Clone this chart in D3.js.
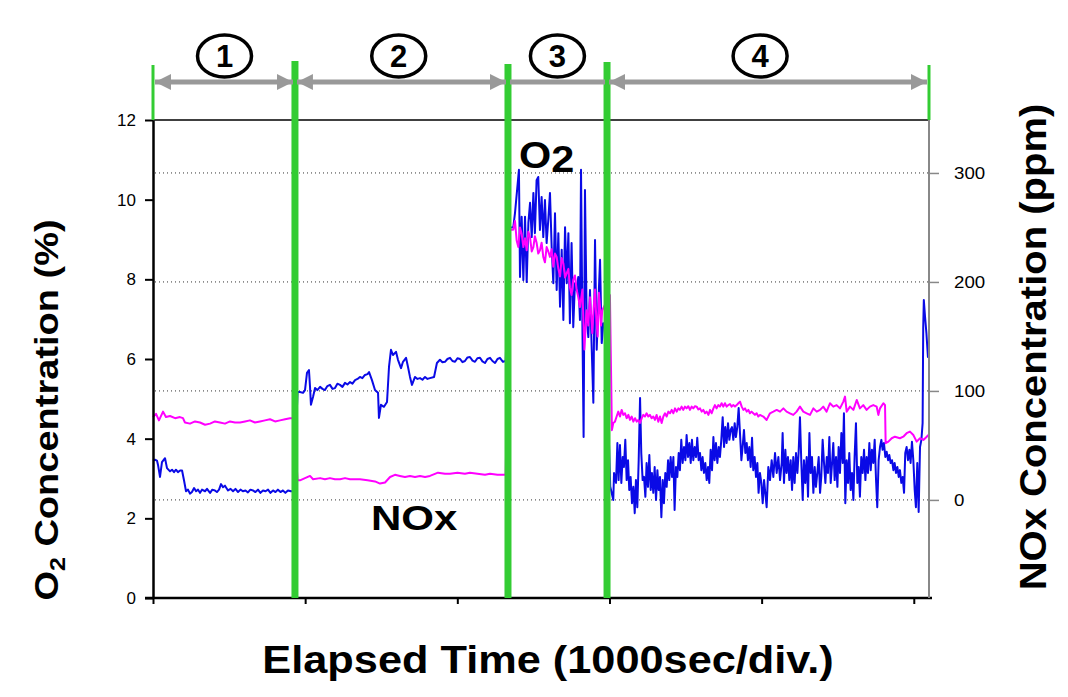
<!DOCTYPE html>
<html><head><meta charset="utf-8">
<script src="https://cdn.jsdelivr.net/npm/d3@7"></script>
<style>body{margin:0;background:#fff} svg{display:block} text{font-family:"Liberation Sans",Arial,sans-serif}</style>
</head><body><svg id="c" width="1068" height="697"></svg>
<script>
const timeTicks=[0,1000,2000,3000,4000,5000];
const o2Ticks=[0,2,4,6,8,10,12];
const noxTicks=[0,100,200,300];
const phaseBounds=[0,933,2333,2984,5100];
const phaseNames=["1","2","3","4"];
const phaseLabelTimes=[470,1615,2658,3990];
const o2Data=[
[0,3.45],[13,3.47],[26,3.45],[33,3.34],[46,3.04],[59,3.41],[79,3.51],[92,3.26],[112,3.18],[125,3.22],[138,3.16],[151,3.22],[164,3.16],[178,3.2],[191,3.2],[204,2.95],[217,2.68],[230,2.72],[243,2.62],[256,2.66],[270,2.76],[283,2.68],[296,2.72],[309,2.64],[322,2.72],[342,2.68],[355,2.74],[375,2.64],[390,2.72],[407,2.7],[420,2.66],[434,2.72],[447,2.86],[460,2.78],[473,2.82],[493,2.7],[510,2.74],[526,2.68],[542,2.74],[559,2.66],[575,2.72],[591,2.68],[608,2.7],[624,2.65],[640,2.72],[657,2.7],[673,2.66],[690,2.72],[706,2.64],[723,2.7],[740,2.68],[756,2.72],[772,2.64],[789,2.7],[805,2.66],[821,2.72],[838,2.66],[854,2.7],[870,2.64],[887,2.7],[907,2.68],[925,2.68],
[950,5.17],[966,5.17],[986,5.15],[999,5.22],[1012,5.65],[1025,5.72],[1032,5.3],[1038,4.85],[1052,5.05],[1065,5.27],[1080,5.22],[1098,5.3],[1114,5.25],[1130,5.22],[1146,5.32],[1163,5.35],[1180,5.25],[1196,5.27],[1212,5.38],[1229,5.35],[1245,5.3],[1262,5.4],[1278,5.36],[1295,5.42],[1311,5.38],[1328,5.47],[1344,5.5],[1360,5.55],[1376,5.52],[1393,5.6],[1410,5.62],[1420,5.67],[1439,5.47],[1459,5.22],[1479,5.15],[1485,4.52],[1498,4.85],[1518,4.8],[1538,4.92],[1551,5.8],[1564,6.23],[1577,6.1],[1597,6.18],[1610,5.98],[1630,5.77],[1643,5.93],[1663,6.03],[1676,5.8],[1689,5.55],[1702,5.35],[1722,5.55],[1738,5.5],[1755,5.52],[1771,5.48],[1788,5.55],[1804,5.5],[1820,5.52],[1847,5.55],[1866,5.9],[1886,5.98],[1902,5.92],[1919,5.93],[1935,6.0],[1952,6.03],[1968,5.95],[1985,5.93],[2001,6.02],[2018,6.0],[2034,5.92],[2050,5.95],[2067,6.04],[2083,6.05],[2100,5.96],[2116,5.93],[2132,6.02],[2149,6.03],[2165,5.94],[2182,5.9],[2198,6.0],[2215,6.03],[2231,5.95],[2248,5.9],[2264,6.0],[2280,6.03],[2300,5.93],[2318,5.95],
[2345,9.3],[2368,9.31],[2379,9.66],[2405,10.75],[2412,8.06],[2423,9.57],[2434,7.98],[2445,9.57],[2456,7.93],[2467,9.41],[2478,9.92],[2489,9.06],[2500,10.17],[2510,9.16],[2521,10.49],[2532,10.57],[2543,9.24],[2554,10.07],[2565,9.06],[2576,9.99],[2587,8.91],[2598,9.5],[2609,10.17],[2620,8.81],[2631,7.9],[2642,9.66],[2653,7.73],[2664,9.16],[2675,7.31],[2686,8.74],[2697,6.98],[2708,9.31],[2719,7.9],[2730,9.16],[2740,6.9],[2751,8.91],[2762,6.8],[2773,7.9],[2784,7.73],[2795,8.06],[2806,6.98],[2813,10.75],[2822,6.9],[2830,4.04],[2839,10.24],[2850,7.06],[2861,6.55],[2872,7.73],[2883,6.3],[2894,4.9],[2905,8.99],[2916,6.23],[2927,7.41],[2938,8.49],[2949,6.4],[2960,6.9],[2975,6.8],
[3005,2.8],[3025,2.46],[3030,3.14],[3043,2.89],[3052,3.89],[3060,2.96],[3069,3.84],[3078,2.89],[3087,3.54],[3095,3.29],[3104,3.97],[3113,2.96],[3122,3.46],[3130,2.71],[3139,3.04],[3148,2.38],[3157,2.79],[3166,2.13],[3174,2.96],[3183,2.28],[3192,3.46],[3201,5.02],[3209,3.64],[3218,2.96],[3227,3.04],[3236,2.54],[3244,3.39],[3253,2.79],[3262,3.59],[3271,2.71],[3279,3.14],[3288,2.64],[3297,3.29],[3306,2.46],[3315,3.21],[3323,2.71],[3332,3.04],[3341,2.03],[3350,2.96],[3358,2.38],[3367,3.14],[3376,2.79],[3385,3.46],[3393,2.96],[3402,3.54],[3411,3.04],[3420,3.54],[3428,2.21],[3437,3.29],[3446,3.04],[3455,3.64],[3463,3.21],[3472,3.97],[3481,3.39],[3490,3.79],[3499,3.46],[3507,4.09],[3516,3.54],[3525,3.89],[3534,3.39],[3542,3.97],[3551,3.46],[3560,3.79],[3569,3.54],[3577,4.02],[3586,3.46],[3595,3.64],[3604,3.21],[3612,3.54],[3621,3.14],[3630,3.39],[3639,2.96],[3648,3.29],[3656,2.89],[3665,3.72],[3674,3.21],[3683,4.04],[3691,3.46],[3700,3.89],[3709,3.39],[3718,3.79],[3726,3.54],[3735,3.97],[3744,4.54],[3753,3.79],[3761,4.29],[3770,3.89],[3779,4.39],[3788,3.97],[3796,4.22],[3805,4.29],[3814,3.97],[3823,4.39],[3831,4.04],[3840,4.29],[3849,4.77],[3858,4.12],[3867,3.46],[3875,3.79],[3884,4.22],[3893,3.64],[3902,3.89],[3910,3.46],[3919,3.79],[3928,3.29],[3937,4.02],[3945,3.21],[3954,3.54],[3963,3.04],[3972,3.39],[3980,2.64],[3989,3.14],[3998,2.89],[4007,2.38],[4016,2.96],
[4033,2.28],[4044,3.29],[4055,2.96],[4066,3.46],[4077,3.04],[4088,3.64],[4099,3.14],[4110,3.54],[4121,2.96],[4132,3.39],[4138,4.14],[4147,2.89],[4156,3.72],[4164,3.14],[4173,3.54],[4182,2.96],[4191,3.46],[4200,2.71],[4208,3.54],[4217,2.89],[4226,3.64],[4235,3.14],[4243,3.64],[4252,4.54],[4261,3.39],[4270,2.46],[4278,3.46],[4287,2.89],[4296,3.54],[4305,2.54],[4314,4.14],[4322,3.14],[4331,3.54],[4340,2.64],[4349,3.29],[4357,2.79],[4366,3.14],[4375,3.54],[4384,2.64],[4392,3.04],[4401,3.97],[4410,3.39],[4419,2.89],[4428,3.54],[4436,3.14],[4445,4.04],[4454,2.89],[4463,3.39],[4471,3.89],[4480,2.96],[4489,3.54],[4498,2.79],[4506,3.79],[4515,3.14],[4524,4.14],[4533,3.39],[4541,4.64],[4550,2.38],[4559,3.46],[4568,2.89],[4576,3.64],[4585,2.71],[4594,3.14],[4603,2.46],[4611,3.54],[4620,4.39],[4629,2.89],[4638,3.29],[4646,2.54],[4655,3.54],[4664,3.14],[4673,3.72],[4682,2.96],[4690,3.54],[4699,3.14],[4708,3.89],[4717,3.21],[4725,3.72],[4734,3.39],[4743,3.97],[4752,2.96],[4760,2.28],[4769,3.46],[4778,3.79],[4787,3.97],[4795,3.72],[4804,3.89],[4813,3.54],[4822,3.67],[4831,3.46],[4839,3.59],[4848,3.39],[4857,3.46],[4866,3.21],[4874,3.39],[4883,3.14],[4892,3.29],[4901,3.04],[4909,3.21],[4918,2.89],[4927,3.04],[4936,2.64],[4944,3.64],[4953,3.79],[4962,3.46],[4971,3.72],[4979,3.39],[4988,3.92],[4997,3.46],[5006,2.71],[5014,2.28],[5023,3.39],[5032,2.16],[5041,3.79],[5050,3.97],[5058,4.39],[5062,6.8],[5066,7.48],[5074,7.06],[5083,6.65],[5093,6.05],[5100,6.1]
];
const noxData=[
[0,76],[20,79],[39,73],[66,81],[85,76],[112,77],[145,75],[177,76],[197,75],[210,71],[243,70],[276,72],[309,71],[342,69],[375,70],[407,72],[440,71],[473,70],[506,72],[539,71],[572,71],[605,72],[637,73],[670,71],[703,72],[736,73],[769,74],[802,72],[835,73],[868,74],[900,75],[925,75],
[950,18],[966,18],[999,20],[1032,22],[1052,19],[1098,20],[1130,19],[1163,20],[1196,19],[1229,19],[1262,20],[1295,19],[1328,19],[1360,19],[1410,18],[1459,17],[1492,15],[1525,16],[1558,21],[1590,23],[1623,22],[1656,21],[1689,22],[1722,21],[1755,22],[1788,21],[1820,22],[1873,25],[1919,24],[1952,24],[2001,25],[2050,24],[2083,25],[2132,24],[2182,23],[2215,24],[2264,23],[2300,23],[2318,23],
[2345,248],[2368,248],[2379,256],[2390,238],[2401,232],[2412,250],[2423,244],[2434,232],[2445,240],[2456,229],[2467,246],[2478,241],[2489,228],[2500,232],[2510,242],[2521,236],[2532,226],[2543,229],[2554,236],[2565,223],[2576,218],[2587,232],[2598,228],[2609,223],[2620,230],[2631,214],[2642,226],[2653,223],[2664,212],[2675,205],[2686,222],[2697,217],[2708,204],[2719,208],[2730,212],[2740,195],[2751,188],[2762,202],[2773,206],[2784,193],[2795,186],[2806,177],[2822,193],[2828,168],[2835,138],[2850,174],[2861,160],[2872,186],[2887,153],[2896,176],[2905,193],[2914,165],[2922,150],[2931,190],[2938,177],[2944,160],[2953,174],[2980,182],[3003,188],[3016,64],
[3025,70.6],[3036,71.8],[3047,76.5],[3058,81],[3069,76.5],[3080,82.6],[3091,78],[3102,79.5],[3113,75],[3124,78],[3135,73.4],[3146,76.5],[3157,71.8],[3168,75],[3179,71.8],[3190,73.4],[3201,70.6],[3212,75],[3222,78],[3233,76.5],[3244,79.5],[3255,76.5],[3266,78],[3277,75],[3288,76.5],[3299,73.4],[3310,78],[3321,71.8],[3332,76.5],[3343,70.6],[3354,76.5],[3365,79.5],[3376,76.5],[3387,81],[3398,79.5],[3409,82.6],[3420,79.5],[3431,84],[3442,81],[3453,84],[3463,82.6],[3474,85.6],[3485,82.6],[3496,85.6],[3507,84],[3518,86],[3529,82.6],[3540,85.6],[3551,84],[3562,86],[3573,85.6],[3584,83],[3595,84],[3606,81],[3617,82.6],[3628,79.5],[3639,81],[3650,78],[3661,82.6],[3672,79.5],[3683,84],[3693,87],[3704,84],[3715,87],[3726,85.6],[3737,88.7],[3748,85.6],[3759,88.7],[3770,85.6],[3781,87],[3792,88],[3803,85.6],[3814,87],[3825,85.6],[3836,87],[3847,88.7],[3858,90.2],[3869,85.6],[3880,82.6],[3891,84],[3902,81],[3913,82.6],[3923,79.5],[3934,81],[3945,79.5],[3956,78],[3967,79.5],[3978,76.5],[3989,78],
[4011,76.5],[4033,73.4],[4055,79.5],[4077,81],[4099,82.6],[4121,81],[4143,84],[4164,81],[4186,79.5],[4208,78],[4230,81],[4252,85.6],[4274,81],[4296,79.5],[4318,78],[4340,84],[4362,81],[4384,82.6],[4405,85.6],[4427,81],[4449,88.7],[4471,85.6],[4493,87],[4515,84],[4537,90.2],[4548,94.8],[4559,81],[4581,85.6],[4603,82.6],[4625,91.7],[4646,84],[4668,87],[4690,82.6],[4712,85.6],[4734,87],[4756,85.6],[4767,78],[4778,84],[4800,88.7],[4811,87],[4815,52],[4833,53.5],[4855,56.6],[4876,58],[4909,56.6],[4931,58],[4953,61.2],[4975,62.7],[4997,59.6],[5019,53.5],[5041,56.6],[5063,55],[5085,58],[5096,59.6]
];

const svg=d3.select("#c");
const x=d3.scaleLinear().domain([0,5100]).range([153,929]);
const yL=d3.scaleLinear().domain([0,12]).range([598,120]);
const yR=d3.scaleLinear().domain([-90,348.6]).range([598,120]);

// dotted gridlines at NOx ticks
svg.append("g").selectAll("line").data(noxTicks).join("line")
  .attr("x1",x(0)+2).attr("x2",x(5100)).attr("y1",d=>yR(d)).attr("y2",d=>yR(d))
  .attr("stroke","#333").attr("stroke-width",1).attr("stroke-dasharray","1,3");

// data lines
const lineL=d3.line().x(d=>x(d[0])).y(d=>yL(d[1]));
const lineR=d3.line().x(d=>x(d[0])).y(d=>yR(d[1]));
svg.append("path").attr("d",lineL(o2Data)).attr("fill","none").attr("stroke","#0a0ae6").attr("stroke-width",2).attr("stroke-linejoin","round");
svg.append("path").attr("d",lineR(noxData)).attr("fill","none").attr("stroke","#ff00ff").attr("stroke-width",2).attr("stroke-linejoin","round");

// top border
svg.append("line").attr("x1",x(0)).attr("x2",x(5100)).attr("y1",120).attr("y2",120).attr("stroke","#000").attr("stroke-width",1.5);

// axes
const ax=svg.append("g").attr("transform","translate(0,598)")
  .call(d3.axisBottom(x).tickValues(timeTicks).tickSize(6).tickSizeOuter(0).tickFormat(""));
ax.select(".domain").attr("stroke-width",2.5).attr("d","M145,0H932");
ax.selectAll(".tick line").attr("stroke-width",2);

const al=svg.append("g").attr("transform","translate(153,0)")
  .call(d3.axisLeft(yL).tickValues(o2Ticks).tickSize(8).tickSizeOuter(0).tickPadding(9));
al.select(".domain").attr("stroke-width",2.5);
al.selectAll(".tick line").attr("stroke-width",2);
al.selectAll("text").attr("font-size",17).attr("fill","#000").attr("font-family","Liberation Sans, Arial, sans-serif");

const ar=svg.append("g").attr("transform","translate(929,0)")
  .call(d3.axisRight(yR).tickValues(noxTicks).tickSize(10).tickSizeOuter(0).tickPadding(15));
ar.select(".domain").attr("stroke","#888").attr("stroke-width",2).attr("d","M0,120V598");
ar.selectAll(".tick line").attr("stroke","#888").attr("stroke-width",1.5);
ar.selectAll("text").attr("font-size",17).attr("fill","#000").attr("font-family","Liberation Sans, Arial, sans-serif")
  .attr("transform","translate(25,0) scale(1.1,1) translate(-25,0)");

// phase boundaries (green)
const gTop=[65,61,64,62,65];
svg.append("g").selectAll("line").data(phaseBounds).join("line")
  .attr("x1",d=>x(d)).attr("x2",d=>x(d))
  .attr("y1",(d,i)=>gTop[i]).attr("y2",(d,i)=>(i===0||i===phaseBounds.length-1)?120:598)
  .attr("stroke","#33cc33").attr("stroke-width",(d,i)=>(i===0||i===phaseBounds.length-1)?3:7);

// arrows
const defs=svg.append("defs");
defs.append("marker").attr("id","ah").attr("viewBox","0 0 10 10").attr("refX",10).attr("refY",5)
  .attr("markerWidth",3.2).attr("markerHeight",3.4).attr("markerUnits","strokeWidth").attr("orient","auto-start-reverse")
  .append("path").attr("d","M0,0L10,5L0,10z").attr("fill","#999");
const segs=d3.range(4).map(i=>({a:phaseBounds[i],b:phaseBounds[i+1],i}));
svg.append("g").selectAll("line").data(segs).join("line")
  .attr("x1",d=>x(d.a)+2).attr("x2",d=>x(d.b)-2).attr("y1",82).attr("y2",82)
  .attr("stroke","#999").attr("stroke-width",5)
  .attr("marker-start",d=>d.i===2?null:"url(#ah)").attr("marker-end",d=>d.i===2?null:"url(#ah)");

// circled labels
const cl=svg.append("g").selectAll("g").data(phaseNames).join("g")
  .attr("transform",(d,i)=>`translate(${x(phaseLabelTimes[i])},56)`);
cl.append("ellipse").attr("rx",27).attr("ry",21).attr("fill","#fff").attr("stroke","#000").attr("stroke-width",3.5);
cl.append("text").text(d=>d).attr("text-anchor","middle").attr("y",11).attr("font-size",31).attr("font-weight","bold");

// in-chart labels
const o2t=svg.append("text").attr("transform","translate(519,168) scale(1.12,1)").attr("font-size",37).attr("font-weight","bold");
o2t.append("tspan").text("O");
o2t.append("tspan").text("2").attr("dy",4);
svg.append("text").attr("transform","translate(371,530) scale(1.2,1)").attr("font-size",35).attr("font-weight","bold").text("NOx");

// axis titles
const lt=svg.append("text").attr("transform","translate(58,410) rotate(-90) scale(1,0.87)").attr("text-anchor","middle").attr("font-size",38).attr("font-weight","bold");
lt.append("tspan").text("O");
lt.append("tspan").text("2").attr("font-size",25).attr("dy",8);
lt.append("tspan").text(" Concentration (%)").attr("dy",-8);
svg.append("text").attr("transform","translate(1046,347) rotate(-90) scale(1,0.9)").attr("text-anchor","middle").attr("font-size",40).attr("font-weight","bold").text("NOx Concentration (ppm)");
svg.append("text").attr("transform","translate(548,673) scale(1.14,1)").attr("text-anchor","middle").attr("font-size",38).attr("font-weight","bold").text("Elapsed Time (1000sec/div.)");
</script></body></html>
